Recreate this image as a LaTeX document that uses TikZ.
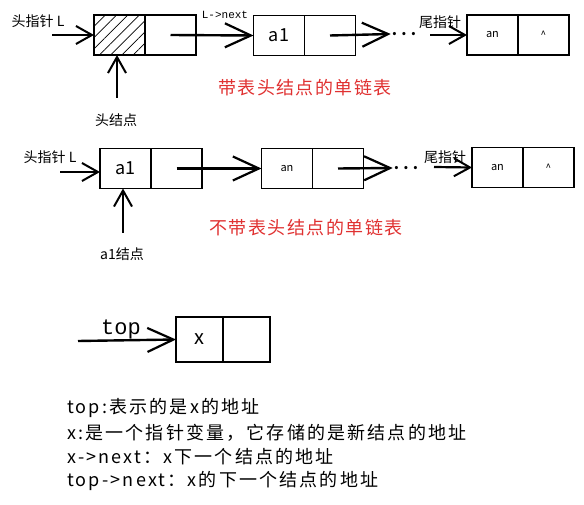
\documentclass[tikz,border=0pt]{standalone}
\usepackage{fontspec}
\setmainfont{Noto Sans CJK SC}
\newfontfamily\cjkwide[LetterSpace=8]{Noto Sans CJK SC}
\newfontfamily\cjknote[LetterSpace=12]{Noto Sans CJK SC}
\newfontfamily\monof{Liberation Mono}
\usepackage{xcolor}
\usepackage{tikz}
\usetikzlibrary{arrows.meta,positioning,patterns.meta}
\definecolor{exred}{HTML}{E03131}

\begin{document}
\begin{tikzpicture}[x=1pt,y=-1pt]

\tikzset{cell/.style={draw, line width=1.8pt, minimum width=51pt, minimum height=40pt, inner sep=0pt, outer sep=0pt},
link/.style={line width=2.4pt, -{Straight Barb[length=26pt,width=24pt,line width=2.2pt]}},
plink/.style={line width=2.2pt, -{Straight Barb[length=16pt,width=18pt,line width=2pt]}},
lbl/.style={font=\fontsize{14}{16}\selectfont, inner sep=0pt},
dots/.style={font=\bfseries\fontsize{15}{16}\selectfont, inner sep=1pt},
title/.style={font=\cjkwide\fontsize{18}{20}\selectfont, text=exred, inner sep=0pt},
%notes below the lists
note/.style={font=\cjknote\fontsize{18}{20}\selectfont, anchor=west, inner sep=0pt}}

\useasboundingbox (0,0) rectangle (584,505);

\node[cell, pattern={Lines[angle=45,distance=8pt,line width=0.7pt]}] (hd) at (119.5,35) {};
\node[cell, right=0pt of hd] (hn) {};
\node[cell, font=\fontsize{18}{20}\selectfont] (ad) at (279,35.5) {a1};
\node[cell, right=0pt of ad] (an) {};
\node[cell, font=\fontsize{11}{12}\selectfont] (td) at (492.5,35) {an};
\node[cell, right=0pt of td] (tn) {\textasciicircum};

\node[lbl] (hp) at (38,21) {头指针 L};
\coordinate (hps) at (52,35);
\draw[plink] (hps) -- (hd.west);
\node[lbl] (hl) at (116,120) {头结点};
\coordinate (hls) at (117,98);
\draw[plink] (hls) -- (hls |- hd.south);
\node[font=\monof\fontsize{11}{12}\selectfont] (nx) at (225,15) {L->next};
\draw[link] (hn.center) -- (ad.west);
\node[dots] (d1) at (404,34) {.\;.\;.};
\draw[link] (an.center) -- (d1.west);
\node[lbl] (tp) at (440,22) {尾指针};
\coordinate (tps) at (430,35);
\draw[plink] (tps) -- (td.west);
\node[title] (t1) at (305,88) {带表头结点的单链表};

\node[lbl] (hp2) at (50,157) {头指针 L};
\node[cell, font=\fontsize{18}{20}\selectfont] (bd) at (125.5,168.5) {a1};
\node[cell, right=0pt of bd] (bn) {};
\node[cell, font=\fontsize{11}{12}\selectfont] (cd) at (287,168.5) {an};
\node[cell, right=0pt of cd] (cn) {};
\node[dots] (d2) at (406,168) {.\;.\;.};
\node[cell, font=\fontsize{11}{12}\selectfont] (ud) at (497.5,167.5) {an};
\node[cell, right=0pt of ud] (un) {\textasciicircum};
\coordinate (hps2) at (60,172);
\draw[plink] (hps2) -- (hps2 -| bd.west);
\draw[link] (bn.center) -- (cd.west);
\draw[link] (cn.center) -- (d2.west);
\node[lbl] (tp2) at (445,157) {尾指针};
\coordinate (tps2) at (434,167);
\draw[plink] (tps2) -- (ud.west);
\node[lbl] (al) at (122,254) {a1结点};
\coordinate (als) at (123,233);
\draw[plink] (als) -- (als |- bd.south);
\node[title] (t2) at (306,228) {不带表头结点的单链表};

\node[cell, minimum width=47pt, minimum height=45pt, font=\fontsize{20}{22}\selectfont] (xd) at (199.5,339.5) {x};
\node[cell, minimum width=47pt, minimum height=45pt, right=0pt of xd] (xn) {};
\coordinate (tops) at (78,341);
\draw[link] (tops) -- (xd.west);
\node[font=\monof\fontsize{22}{24}\selectfont] (tl) at (121,329) {top};

\node[note] (n1) at (67,408) {top:表示的是x的地址};
\node[note] (n2) at (67,433) {x:是一个指针变量，它存储的是新结点的地址};
\node[note] (n3) at (67,457) {x->next：x下一个结点的地址};
\node[note] (n4) at (67,481) {top->next：x的下一个结点的地址};

\end{tikzpicture}
\end{document}
